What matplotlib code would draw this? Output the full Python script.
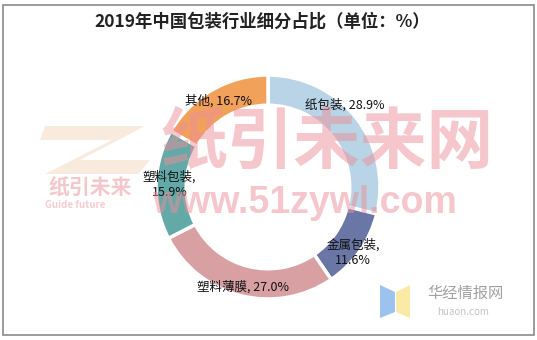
import matplotlib
matplotlib.use("Agg")
import matplotlib.pyplot as plt
import numpy as np
from matplotlib.patches import Rectangle, Polygon

plt.rcParams['font.family'] = ['Noto Sans CJK SC', 'DejaVu Sans']

categories = ['纸包装', '金属包装', '塑料薄膜', '塑料包装', '其他']
shares = [28.9, 11.6, 27.0, 15.9, 16.7]
colors = ['#b8d4e6', '#6a77a6', '#d9a0a3', '#62a9a8', '#f2a15b']
label_texts = ['纸包装, 28.9%', '金属包装,\n11.6%', '塑料薄膜, 27.0%', '塑料包装,\n15.9%', '其他, 16.7%']
label_dist = [1.0, 0.96, 0.92, 0.88, 0.89]
label_turn = [9, -3, 0, 0, 0]   # degrees, nudge along the ring

W, H = 537, 340
fig = plt.figure(figsize=(W / 100, H / 100), dpi=100)
fig.patch.set_facecolor('white')

# outer frame
fig.add_artist(Rectangle((3 / W, 5 / H), 531 / W, 330 / H, transform=fig.transFigure,
                         fill=False, edgecolor='#8a8a8a', linewidth=1.2))

fig.text(262 / W, 1 - 22 / H, '2019年中国包装行业细分占比（单位：%）',
         ha='center', va='center', fontsize=12.5, fontweight='bold', color='#222222')

# donut axes: center (268,187) px, radius 112 px
ax = fig.add_axes([156 / W, 41 / H, 224 / W, 224 / H])
wedges, _ = ax.pie(shares, colors=colors, startangle=90, counterclock=False,
                   radius=1.0, wedgeprops=dict(width=0.27, edgecolor='white', linewidth=2.5))
ax.set_xlim(-1, 1)
ax.set_ylim(-1, 1)
ax.set_aspect('equal')
ax.axis('off')

for w, txt, d, t in zip(wedges, label_texts, label_dist, label_turn):
    a = np.deg2rad((w.theta1 + w.theta2) / 2 + t)
    ax.text(d * np.cos(a), d * np.sin(a), txt, ha='center', va='center',
            fontsize=9, color='#111111', linespacing=1.2)

# watermarks
fig.text(327 / W, 1 - 143 / H, '纸引未来网', ha='center', va='center', fontsize=48,
         fontweight='bold', color='#ec8f99', alpha=0.5)
fig.text(305 / W, 1 - 203 / H, 'www.51zywl.com', ha='center', va='center', fontsize=27,
         fontweight='bold', family='Liberation Sans', color='#ec8f99', alpha=0.5)

# left logo
fig.add_artist(Polygon([(45 / W, 1 - 126 / H), (145 / W, 1 - 126 / H), (80 / W, 1 - 160 / H),
                        (150 / W, 1 - 160 / H), (138 / W, 1 - 174 / H), (45 / W, 1 - 174 / H),
                        (112 / W, 1 - 140 / H), (40 / W, 1 - 140 / H)],
                       closed=True, transform=fig.transFigure, facecolor='#f4d9c0', alpha=0.55,
                       edgecolor='none'))
fig.text(90 / W, 1 - 187 / H, '纸引未来', ha='center', va='center', fontsize=15,
         fontweight='bold', color='#ec8f99', alpha=0.5)
fig.text(75 / W, 1 - 205 / H, 'Guide future', ha='center', va='center', fontsize=7,
         fontweight='bold', color='#ec8f99', alpha=0.45)

# bottom-right logo
fig.add_artist(Polygon([(380 / W, 1 - 285 / H), (395 / W, 1 - 292 / H), (395 / W, 1 - 312 / H),
                        (380 / W, 1 - 318 / H)], closed=True, transform=fig.transFigure,
                       facecolor='#9cc3f0', edgecolor='none'))
fig.add_artist(Polygon([(396 / W, 1 - 292 / H), (410 / W, 1 - 285 / H), (410 / W, 1 - 318 / H),
                        (396 / W, 1 - 312 / H)], closed=True, transform=fig.transFigure,
                       facecolor='#fbe9a6', edgecolor='none'))
fig.text(465 / W, 1 - 293 / H, '华经情报网', ha='center', va='center', fontsize=11,
         color='#a0a0a0')
fig.text(463 / W, 1 - 312 / H, 'huaon.com', ha='center', va='center', fontsize=7,
         color='#c4c4c4')

fig.savefig('out.png', dpi=100)
